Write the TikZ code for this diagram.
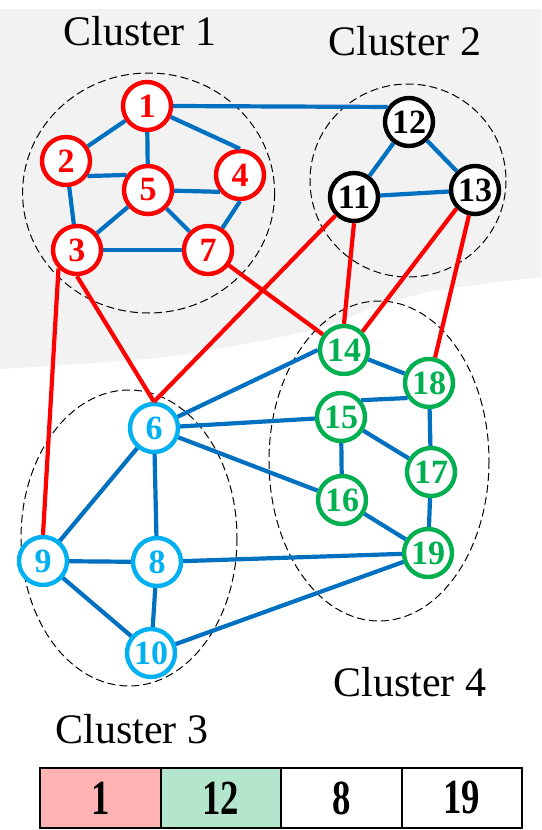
\documentclass[tikz,border=0pt]{standalone}
\usepackage{fontspec}
\usepackage{graphicx}
\setmainfont{Liberation Serif}
\definecolor{nodered}{HTML}{FF0000}
\definecolor{nodeblue}{HTML}{00B0F0}
\definecolor{nodegreen}{HTML}{00B050}
\definecolor{edgeblue}{HTML}{0070C0}
\definecolor{bggray}{HTML}{F2F2F2}
\definecolor{cellred}{HTML}{FFB3B3}
\definecolor{cellgreen}{HTML}{B3E6CC}
\tikzset{
  vertex/.style={circle, draw, line width=2.2pt, fill=white, minimum size=24pt, inner sep=0pt,
    font=\fontsize{17}{17}\selectfont\bfseries},
  blueedge/.style={line width=2.1pt, draw=edgeblue},
  rededge/.style={line width=2.1pt, draw=nodered},
  cluster/.style={dash pattern=on 4pt off 2pt, line width=0.5pt},
  clabel/.style={font=\fontsize{21}{21}\selectfont},
  cell/.style={draw, line width=1pt, minimum width=60.25pt, minimum height=30pt, inner sep=0pt,
    font=\fontsize{17.5}{17.5}\selectfont\bfseries}
}
\begin{document}
\begin{tikzpicture}[x=0.5pt, y=-0.5pt]
      \useasboundingbox (0,0) rectangle (541,830);
      \fill[bggray] (0,9) -- (541,9) -- (541,277)
          -- plot[smooth, tension=0.6] coordinates {(541,277) (440,290) (385,304) (325,326) (255,342) (155,358) (0,369)}
          -- cycle;
      \draw[cluster] (148.6,193) ellipse [x radius=126, y radius=120];
      \draw[cluster] (408,180.5) ellipse [x radius=98, y radius=96.5];
      \draw[cluster] (129,538) ellipse [x radius=108, y radius=148];
      \draw[cluster] (379,461) ellipse [x radius=110, y radius=160];
      \foreach \Num/\X/\Y/\Col in {1/147/106/nodered, 2/66/161/nodered, 3/77/250/nodered,
          4/240/175/nodered, 5/148/190/nodered, 7/208/250/nodered,
          6/154/428/nodeblue, 8/157/562/nodeblue, 9/43/561/nodeblue, 10/151/653/nodeblue,
          11/354/197/black, 12/409/122/black, 13/475/190/black,
          14/344/350/nodegreen, 15/341/417/nodegreen, 16/342/500/nodegreen,
          17/431/472/nodegreen, 18/429/383/nodegreen, 19/428/553/nodegreen}
\node[vertex, draw=\Col, text=\Col] (n\Num) at (\X,\Y) {\Num};
      \foreach \a/\b in {1/2, 1/5, 2/3, 5/3, 5/7, 3/7, 12/11, 12/13, 11/13,
          14/18, 6/15, 6/16, 6/8, 6/9, 15/17, 15/16, 18/17, 17/19, 16/19,
          9/8, 8/19, 9/10, 8/10, 10/19}
\draw[blueedge] (n\a) -- (n\b);
      \draw[blueedge] (n1.east) -- (n12.145);
      \draw[blueedge] (n1) -- (n4.north);
      \draw[blueedge] (n2.-35) -- (n5.145);
      \draw[blueedge] (n5) -- (n4.220);
      \draw[blueedge] (n4.south) -- (n7);
      \draw[blueedge] (n6) -- (n14.west);
      \draw[blueedge] (n15.40) -- (n18.215);
      \draw[rededge] (n3.south west) -- (n9.north);
      \draw[rededge] (n3.south) -- (n6.north);
      \draw[rededge] (n11.south west) -- (n6.north);
      \draw[rededge] (n11.south) -- (n14.north);
      \draw[rededge] (n13.south west) -- (n14.north east);
      \draw[rededge] (n7) -- (n14);
      \draw[rededge] (n13) -- (n18);
\node[clabel] (c1) at (140,31) {Cluster 1};
\node[clabel] (c2) at (405,41) {Cluster 2};
\node[clabel] (c3) at (132,729) {Cluster 3};
\node[clabel] (c4) at (410,682) {Cluster 4};
      \foreach \Num/\X/\Fill in {1/100.25/cellred, 12/220.75/cellgreen, 8/341.25/white, 19/461.75/white}
\node[cell, fill=\Fill] (t\Num) at (\X,798) {\scalebox{1.05}[1.4]{\Num}};
    \end{tikzpicture}
\end{document}
